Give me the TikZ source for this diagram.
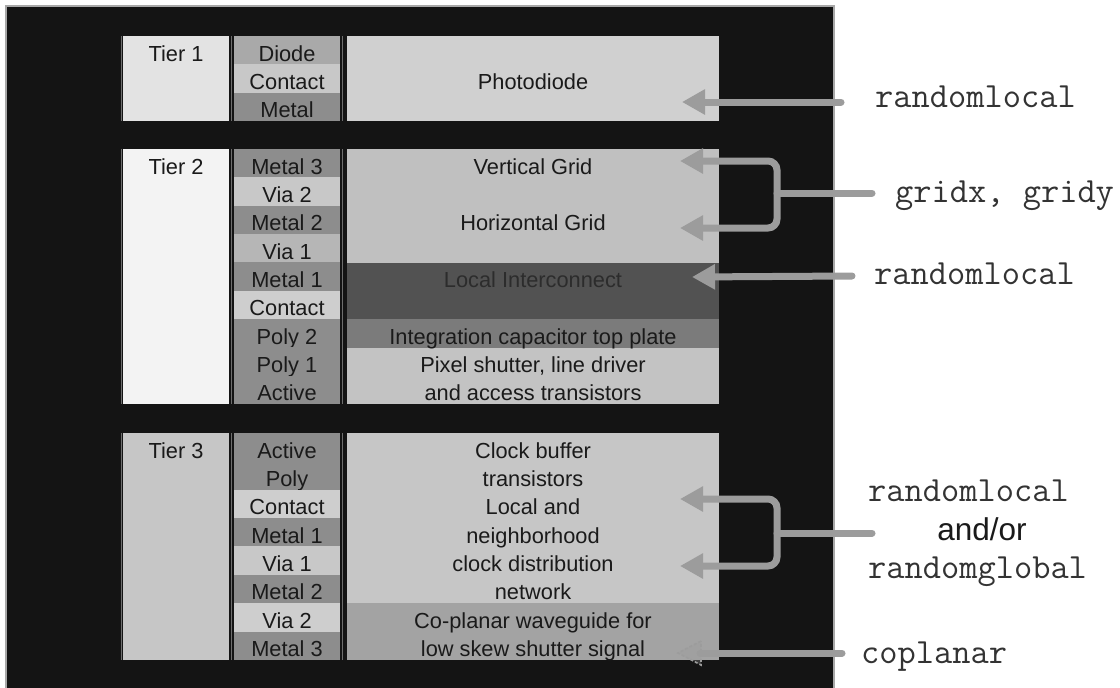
\documentclass[tikz,border=0pt]{standalone}
\usepackage{fontspec}
\setmainfont{Liberation Sans}
\usetikzlibrary{arrows.meta}
\definecolor{panel}{HTML}{141414}
\definecolor{framec}{HTML}{A8A8A8}
\definecolor{txt}{HTML}{1A1A1A}
\definecolor{litxt}{HTML}{2C2C2C}
\definecolor{mtxt}{HTML}{333333}
\definecolor{arrc}{HTML}{9C9C9C}
\definecolor{sepc}{HTML}{6E6E6E}
\definecolor{tA}{HTML}{E3E3E3}
\definecolor{tB}{HTML}{F3F3F3}
\definecolor{tC}{HTML}{C6C6C6}
\definecolor{dk}{HTML}{8D8D8D}
\definecolor{diode}{HTML}{A9A9A9}
\definecolor{lt}{HTML}{C8C8C8}
\definecolor{viaone}{HTML}{B6B6B6}
\definecolor{cont}{HTML}{CECECE}
\definecolor{pd}{HTML}{D0D0D0}
\definecolor{grid}{HTML}{C0C0C0}
\definecolor{li}{HTML}{525252}
\definecolor{icap}{HTML}{7B7B7B}
\definecolor{pix}{HTML}{C3C3C3}
\definecolor{clk}{HTML}{C6C6C6}
\definecolor{cpw}{HTML}{A3A3A3}
\begin{document}
\begin{tikzpicture}[x=1pt,y=-1pt,
  cell/.style={rectangle, inner sep=0pt, draw=none},
  lbl/.style={font=\fontsize{21.8}{26}\selectfont, text=txt, inner sep=0pt, text height=21.67pt, text depth=0pt},
  mono/.style={font=\ttfamily\fontsize{35.4}{40}\selectfont, text=mtxt, inner sep=0pt, anchor=base west},
  arr/.style={draw=arrc, line width=7pt, line cap=round, -{Triangle[length=23pt,width=24pt]}},
  brk/.style={draw=arrc, line width=7pt, rounded corners=9pt, {Triangle[length=23pt,width=24pt]}-{Triangle[length=23pt,width=24pt]}},
  tail/.style={draw=arrc, line width=7pt, line cap=round},
  sep/.style={draw=sepc, line width=1.2pt}]
\useasboundingbox (0,0) rectangle (1120,688);
\fill[white] (0,0) rectangle (1120,688);
\draw[fill=panel, draw=framec, line width=1.2pt] (6,6) rectangle (834,694);

% ---------- column 1 (tier labels) ----------
\node[cell, fill=tA, minimum width=106pt, minimum height=85pt] (tier1) at (176,78.5) {};
\node[cell, fill=tB, minimum width=106pt, minimum height=255pt] (tier2) at (176,276.5) {};
\node[cell, fill=tC, minimum width=106pt, minimum height=227pt] (tier3) at (176,546.5) {};
\node[lbl] (tier1lbl) at (176,50.17) {Tier 1};
\node[lbl] (tier2lbl) at (176,163.17) {Tier 2};
\node[lbl] (tier3lbl) at (176,447.19) {Tier 3};

% ---------- column 2 (layers) ----------
\foreach \nm/\i/\txt/\col in {ta1/1/Diode/diode, ta2/2/Contact/lt, ta3/3/Metal/dk}
  \node[cell, lbl, fill=\col, minimum width=106pt, minimum height=28.6pt] (\nm) at (287,{36+(\i-0.5)*85/3}) {\txt};
\foreach \nm/\i/\txt/\col in {tb1/1/Metal 3/dk, tb2/2/Via 2/lt, tb3/3/Metal 2/dk, tb4/4/Via 1/viaone, tb5/5/Metal 1/dk, tb6/6/Contact/cont, tb7/7/Poly 2/dk, tb8/8/Poly 1/dk, tb9/9/Active/dk}
  \node[cell, lbl, fill=\col, minimum width=106pt, minimum height=28.6pt] (\nm) at (287,{149+(\i-0.5)*255/9}) {\txt};
\foreach \nm/\i/\txt/\col in {tc1/1/Active/dk, tc2/2/Poly/dk, tc3/3/Contact/cont, tc4/4/Metal 1/dk, tc5/5/Via 1/lt, tc6/6/Metal 2/dk, tc7/7/Via 2/cont, tc8/8/Metal 3/dk}
  \node[cell, lbl, fill=\col, minimum width=106pt, minimum height=28.6pt] (\nm) at (287,{433+(\i-0.5)*227/8}) {\txt};

% separators around column 2
\foreach \ya/\yb in {36/121, 149/404, 433/660} {
  \draw[sep] (231.5,\ya) -- (231.5,\yb);
  \draw[sep] (342.5,\ya) -- (342.5,\yb);
  \draw[sep] (121.5,\ya) -- (121.5,\yb);
}

% ---------- column 3 (function) ----------
\node[cell, fill=pd, minimum width=372pt, minimum height=85pt] (pdcell) at (533,78.5) {};
\node[cell, fill=grid, minimum width=372pt, minimum height=113.67pt] (gridcell) at (533,205.83) {};
\node[cell, fill=li, minimum width=372pt, minimum height=56.67pt] (licell) at (533,291) {};
\node[cell, fill=icap, minimum width=372pt, minimum height=28.6pt] (iccell) at (533,333.5) {};
\node[cell, fill=pix, minimum width=372pt, minimum height=56.33pt] (pixcell) at (533,375.83) {};
\node[cell, fill=clk, minimum width=372pt, minimum height=170.25pt] (clkcell) at (533,518.13) {};
\node[cell, fill=cpw, minimum width=372pt, minimum height=56.75pt] (cpwcell) at (533,631.63) {};

\node[lbl] (pdtxt) at (533,78.5) {Photodiode};
\node[lbl] (vgtxt) at (533,163.17) {Vertical Grid};
\node[lbl] (hgtxt) at (533,219.83) {Horizontal Grid};
\node[lbl, text=litxt] (litxt) at (533,276.5) {Local Interconnect};
\node[lbl] (ictxt) at (533,333.17) {Integration capacitor top plate};
\node[lbl] (pxa) at (533,361.5) {Pixel shutter, line driver};
\node[lbl] (pxb) at (533,389.83) {and access transistors};
\node[lbl] (cka) at (533,447.19) {Clock buffer};
\node[lbl] (ckb) at (533,475.56) {transistors};
\node[lbl] (ckc) at (533,503.94) {Local and};
\node[lbl] (ckd) at (533,532.31) {neighborhood};
\node[lbl] (cke) at (533,560.69) {clock distribution};
\node[lbl] (ckf) at (533,589.06) {network};
\node[lbl] (cpa) at (533,617.44) {Co-planar waveguide for};
\node[lbl] (cpb) at (533,645.81) {low skew shutter signal};

% ---------- right-hand labels ----------
\node[mono] (rl1) at (875,107) {randomlocal};
\node[mono] (gxy) at (895,202) {gridx, gridy};
\node[mono] (rl2) at (874,284) {randomlocal};
\node[mono] (rl3) at (868,501.5) {randomlocal};
\node[font=\fontsize{31.5}{36}\selectfont, text=txt, inner sep=0pt, anchor=base] (andor) at (982,540) {and/or};
\node[mono] (rg) at (868,578) {randomglobal};
\node[mono] (cpl) at (861,663) {coplanar};

% ---------- connectors ----------
\coordinate (a1tip) at (682,102);
\coordinate (a1end) at (841,102);
\draw[arr] (a1end) -- (a1tip);

\coordinate (g1tip) at (680,161);
\coordinate (g2tip) at (680,228);
\coordinate (gmid) at (777,193);
\coordinate (gend) at (872,193);
\draw[brk] (g1tip) -- (777,161) -- (777,228) -- (g2tip);
\draw[tail] (gmid) -- (gend);

\coordinate (litip) at (692,277);
\coordinate (liend) at (852,276);
\draw[arr] (liend) -- (litip);

\coordinate (r1tip) at (680,499);
\coordinate (r2tip) at (680,566);
\coordinate (rmid) at (777,533);
\coordinate (rend) at (872,533);
\draw[brk] (r1tip) -- (777,499) -- (777,566) -- (r2tip);
\draw[tail] (rmid) -- (rend);

\coordinate (cptip) at (678,653);
\coordinate (cpback) at (700,653);
\coordinate (cpend) at (842,653);
\draw[tail] (cpend) -- (cpback);
\draw[arrc, line width=1.6pt, dash pattern=on 3pt off 2pt, fill=arrc, fill opacity=0.3] (701,641) -- (cptip) -- (701,665) -- cycle;
\end{tikzpicture}
\end{document}
